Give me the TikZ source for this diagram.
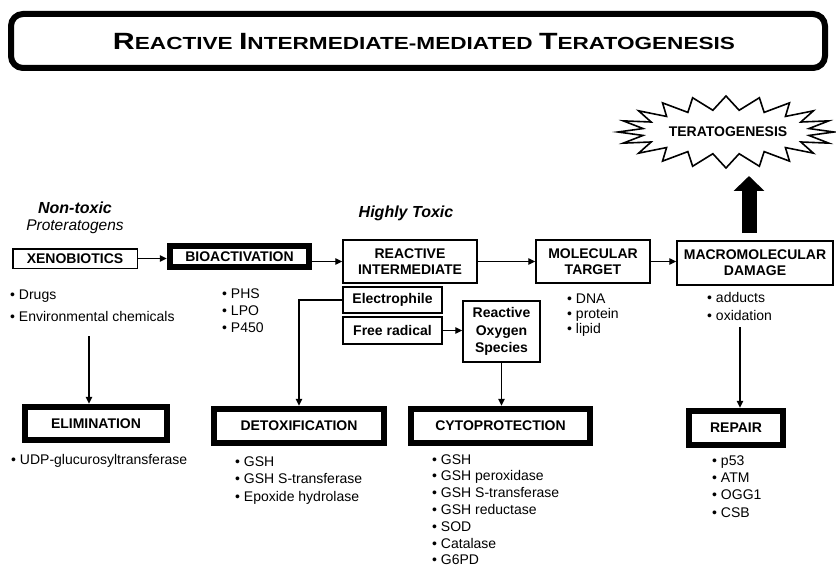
\documentclass[tikz,border=0pt]{standalone}
\usepackage{fontspec}
\setmainfont{Liberation Sans}
\usetikzlibrary{arrows.meta}
\newcommand{\tbig}{\fontsize{23.5}{23.5}\selectfont}
\newcommand{\tsml}{\fontsize{17.5}{17.5}\selectfont}
\begin{document}
\begin{tikzpicture}[x=1pt,y=-1pt,
  thinbox/.style={draw, line width=1.5pt, inner sep=0pt, align=center, font=\fontsize{14}{16}\selectfont\bfseries},
  thickbox/.style={draw, line width=6.5pt, inner sep=0pt, align=center, font=\fontsize{14}{16}\selectfont\bfseries},
  item/.style={anchor=base west, inner sep=0pt, font=\fontsize{14}{16}\selectfont},
  lbl/.style={inner sep=0pt, font=\fontsize{16}{18}\selectfont},
  arr/.style={line width=1.3pt, -{Triangle[length=7pt,width=6.5pt]}},
  ln/.style={line width=1.3pt}]
\useasboundingbox (0,0) rectangle (836,567);
\fill[white] (0,0) rectangle (836,567);

% title
\node[draw, line width=6pt, rounded corners=12pt, minimum width=814pt, minimum height=54pt, inner sep=0pt] (title) at (418,41) {};
\node[inner sep=0pt, anchor=base] (titletext) at (424,50) {\resizebox{622pt}{\height}{\bfseries\tbig R\tsml EACTIVE \tbig I\tsml NTERMEDIATE-MEDIATED \tbig T\tsml ERATOGENESIS}};

% starburst
\draw[line width=1.6pt, line join=miter] ({726+108},132)
  \foreach \i in {1,...,39} { -- ({726+(isodd(\i)?84:108)*cos(\i*9)}, {132+(isodd(\i)?22:36)*sin(\i*9)}) } -- cycle;
\node[inner sep=0pt, font=\fontsize{14}{16}\selectfont\bfseries] (ter) at (728,132) {TERATOGENESIS};

% labels
\node[lbl, font=\fontsize{16}{18}\selectfont\bfseries\itshape] (nontox) at (75,208) {Non-toxic};
\node[lbl, font=\fontsize{15.5}{18}\selectfont\itshape] (prot) at (75,227) {Proteratogens};
\node[lbl, font=\fontsize{16}{18}\selectfont\bfseries\itshape] (hightox) at (406,213) {Highly Toxic};

% main row
\node[thinbox, minimum width=124.5pt, minimum height=19.5pt] (xeno) at (75,258.5) {XENOBIOTICS};
\node[thickbox, minimum width=139pt, minimum height=21pt] (bio) at (239.5,256.5) {BIOACTIVATION};
\node[thinbox, minimum width=134pt, minimum height=43pt] (ri) at (410,261.5) {REACTIVE\\INTERMEDIATE};
\node[thinbox, minimum width=114pt, minimum height=43pt] (mt) at (593,261.5) {MOLECULAR\\TARGET};
\node[thinbox, minimum width=156pt, minimum height=44pt] (macro) at (755,263) {MACROMOLECULAR\\DAMAGE};

\node[thinbox, minimum width=99pt, minimum height=26pt] (el) at (392.5,300) {Electrophile};
\node[thinbox, minimum width=99pt, minimum height=27pt] (fr) at (392.5,330.5) {Free radical};
\node[thinbox, minimum width=77pt, minimum height=61pt, font=\fontsize{14}{17.5}\selectfont\bfseries] (ros) at (501.5,331.5) {Reactive\\Oxygen\\Species};

% bottom row
\node[thickbox, minimum width=142pt, minimum height=33pt] (elim) at (96,423.5) {ELIMINATION};
\node[thickbox, minimum width=170pt, minimum height=34pt] (detox) at (299,426) {DETOXIFICATION};
\node[thickbox, minimum width=179pt, minimum height=34pt] (cyto) at (500.5,426) {CYTOPROTECTION};
\node[thickbox, minimum width=94pt, minimum height=34pt] (repair) at (736,428) {REPAIR};

% connectors
\draw[arr] (xeno.east) -- (xeno.east -| bio.west);
\draw[arr] (ri.west -| bio.east) -- (ri.west);
\draw[arr] (ri.east) -- (mt.west);
\draw[arr] (mt.east) -- (mt.east -| macro.west);
\draw[arr] (el.west) -| (detox.north);
\draw[arr] (fr.east) -- (fr.east -| ros.west);
\draw[arr] (ros.south) -- (ros.south |- cyto.north);
\coordinate (xs) at (89,336);
\draw[arr] (xs) -- (xs |- elim.north);
\coordinate (ms) at (740,327);
\draw[arr] (ms) -- (ms |- repair.north);
\coordinate (bigs) at (749,233);
\coordinate (bige) at (749,176);
\draw[line width=15pt, -{Triangle[length=15pt,width=30pt]}] (bigs) -- (bige);

% bullet lists
\node[item] (drugs) at (10,299) {\textbullet\ Drugs};
\node[item] (env) at (10,321) {\textbullet\ Environmental chemicals};
\foreach \t [count=\i] in {PHS, LPO, P450}
  \node[item] (bio\i) at (222,{281+17*\i}) {\textbullet\ \t};
\foreach \t [count=\i] in {DNA, protein, lipid}
  \node[item] (mt\i) at (567,{288+15*\i}) {\textbullet\ \t};
\foreach \t [count=\i] in {adducts, oxidation}
  \node[item] (mac\i) at (707,{284+18*\i}) {\textbullet\ \t};
\node[item] (udp) at (11,464) {\textbullet\ UDP-glucurosyltransferase};
\foreach \t [count=\i] in {GSH, GSH S-transferase, Epoxide hydrolase}
  \node[item] (dt\i) at (235,{448.5+17.5*\i}) {\textbullet\ \t};
\foreach \t [count=\i] in {GSH, GSH peroxidase, GSH S-transferase, GSH reductase, SOD, Catalase, G6PD}
  \node[item] (cy\i) at (432,{447.2+16.8*\i}) {\textbullet\ \t};
\foreach \t [count=\i] in {p53, ATM, OGG1, CSB}
  \node[item] (rp\i) at (712,{448+17.3*\i}) {\textbullet\ \t};
\end{tikzpicture}
\end{document}
